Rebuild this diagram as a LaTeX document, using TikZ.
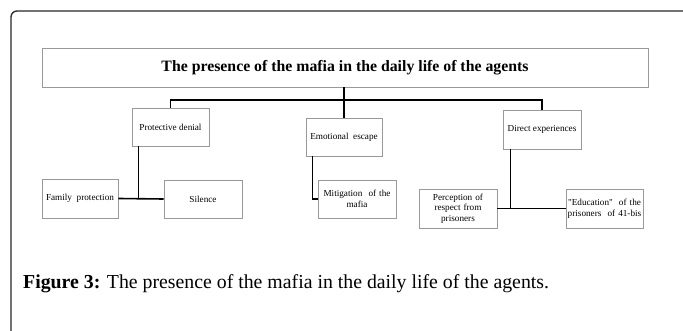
\documentclass[tikz,border=0pt]{standalone}
\usepackage{fontspec}
\setmainfont{Liberation Serif}
\usetikzlibrary{positioning}

\begin{document}
\begin{tikzpicture}[x=1pt, y=-1pt]
	\tikzstyle{box}=[rectangle, draw=black!40, line width=0.8pt, inner sep=1pt, align=center, font=\fontsize{9.2}{10.5}\selectfont]
\tikzstyle{connect}=[line width=1.6pt, black]
\clip (0,0) rectangle (683,331);
\draw[line width=1.3pt, black!85, rounded corners=6] (11,11) rectangle (690,360);
\node[box, minimum width=606, minimum height=39, font=\fontsize{15.8}{18}\selectfont\bfseries] (title) at (345,67.5) {The presence of the mafia in the daily life of the agents};
\node[box, minimum width=77, minimum height=38] (pd) at (170.5,127) {Protective denial};
\node[box, minimum width=76, minimum height=38] (ee) at (344,137) {Emotional~ escape};
\node[box, minimum width=78, minimum height=39] (de) at (542,129.5) {Direct experiences};
\node[box, minimum width=76, minimum height=39] (fam) at (80,198.5) {Family~ protection};
\node[box, minimum width=78, minimum height=38] (sil) at (203,199) {Silence};
\node[box, minimum width=78, minimum height=38, text width=76] (mit) at (357,199) {Mitigation~ of the\\mafia};
\node[box, minimum width=78, minimum height=39, text width=76] (per) at (458,208.5) {Perception of\\respect from\\prisoners};
\node[box, minimum width=77, minimum height=39, text width=75] (edu) at (604.5,208.5) {\textquotedbl Education\textquotedbl~ of the\\prisoners~ of 41-bis};
\coordinate (hub) at (344,100);
\node[anchor=base west, inner sep=0pt, font=\fontsize{19.8}{23}\selectfont] (caption) at (23,289) {\textbf{Figure 3:} The presence of the mafia in the daily life of the agents.};
\path (title.south -| hub) edge [connect] (ee.north);
\draw[connect] (pd.north) |- (hub) -| (de.north);
\draw[connect] (fam.east) -- (sil.west);
\draw[connect] ([xshift=7pt]pd.south west) -- ([xshift=7pt]pd.south west |- fam.east);
\draw[connect] ([xshift=7pt]ee.south west) |- (mit.west);
\draw[connect] (per.east) -- (edu.west);
\draw[connect] ([xshift=8pt]de.south west) -- ([xshift=8pt]de.south west |- per.east);
\end{tikzpicture}
\end{document}
